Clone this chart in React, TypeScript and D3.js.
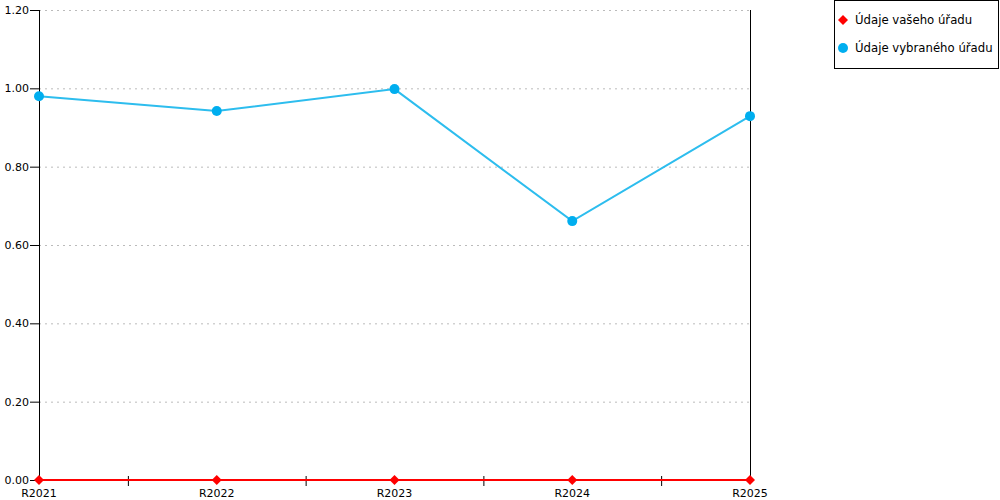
import * as d3 from 'd3';

const categories = ['R2021', 'R2022', 'R2023', 'R2024', 'R2025'];
const yourOffice = [0, 0, 0, 0, 0];
const selectedOffice = [0.98, 0.942, 0.998, 0.661, 0.929];
const yTicks = [0, 0.2, 0.4, 0.6, 0.8, 1.0, 1.2];
const seriesNames = ['Údaje vašeho úřadu', 'Údaje vybraného úřadu'];

const RED = '#ff0000';
const BLUE_LINE = '#2dbdee';
const BLUE_DOT = '#00aeef';

export default function App() {
  const width = 1000;
  const height = 500;
  const left = 39;
  const right = 750;
  const top = 10;
  const bottom = 480;

  const x = d3.scalePoint<string>().domain(categories).range([left, right]);
  const y = d3.scaleLinear().domain([0, 1.2]).range([bottom, top]);
  const step = x.step();

  const line = d3.line<number>()
    .x((_, i) => x(categories[i]) as number)
    .y(d => y(d));

  const diamond = (cx: number, cy: number, r: number) =>
    `M${cx},${cy - r}L${cx + r},${cy}L${cx},${cy + r}L${cx - r},${cy}Z`;

  const font = "'DejaVu Sans', Verdana, sans-serif";

  return (
    <svg
      width={width}
      height={height}
      style={{ position: 'fixed', left: 0, top: 0, background: '#fff' }}
      fontFamily={font}
      fontSize={11}
    >
      {/* grid */}
      {yTicks.slice(1).map(t => (
        <line key={t} x1={left} x2={right} y1={y(t) + 0.5} y2={y(t) + 0.5}
          stroke="#bbb" strokeDasharray="2,4" />
      ))}
      {/* y axis */}
      <line x1={left + 0.5} x2={left + 0.5} y1={top} y2={bottom} stroke="#000" />
      <line x1={right + 0.5} x2={right + 0.5} y1={top} y2={bottom} stroke="#000" />
      {yTicks.map(t => (
        <g key={t}>
          <line x1={left - 9} x2={left} y1={y(t) + 0.5} y2={y(t) + 0.5} stroke="#000" />
          <text x={left - 10} y={y(t)} dy="0.35em" textAnchor="end" fill="#000">
            {t.toFixed(2)}
          </text>
        </g>
      ))}
      {/* x axis */}
      <line x1={left} x2={right} y1={bottom + 0.5} y2={bottom + 0.5} stroke="#000" />
      {categories.slice(0, -1).map(c => (
        <line key={c} x1={(x(c) as number) + step / 2 + 0.5} x2={(x(c) as number) + step / 2 + 0.5}
          y1={bottom - 4} y2={bottom + 6} stroke="#000" />
      ))}
      {categories.map(c => (
        <text key={c} x={x(c)} y={bottom + 13} dy="0.35em" textAnchor="middle" fill="#000">
          {c}
        </text>
      ))}
      {/* blue series */}
      <path d={line(selectedOffice) as string} fill="none" stroke={BLUE_LINE} strokeWidth={2} />
      {selectedOffice.map((v, i) => (
        <circle key={i} cx={x(categories[i])} cy={y(v)} r={5} fill={BLUE_DOT} />
      ))}
      {/* red series */}
      <path d={line(yourOffice) as string} fill="none" stroke={RED} strokeWidth={2} />
      {yourOffice.map((v, i) => (
        <path key={i} d={diamond(x(categories[i]) as number, y(v), 5)} fill={RED} />
      ))}
      {/* legend */}
      <rect x={834.5} y={0.5} width={164} height={68} fill="#fff" stroke="#000" />
      <path d={diamond(843, 20, 5)} fill={RED} />
      <text x={855} y={20} dy="0.35em" fill="#000" fontSize={11.7}>{seriesNames[0]}</text>
      <circle cx={843} cy={48} r={5} fill={BLUE_DOT} />
      <text x={855} y={48} dy="0.35em" fill="#000" fontSize={11.7}>{seriesNames[1]}</text>
    </svg>
  );
}
